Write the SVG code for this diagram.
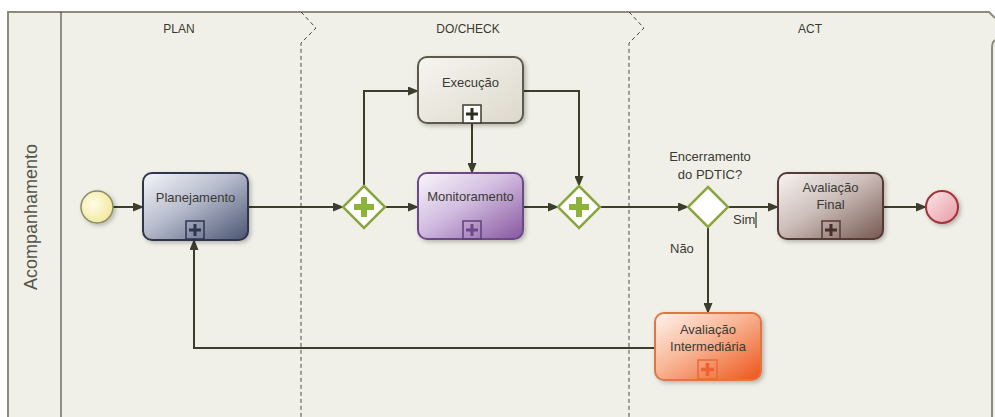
<svg xmlns="http://www.w3.org/2000/svg" width="995" height="417" viewBox="0 0 995 417">
<style>
.lbl{font-family:"Liberation Sans",Arial,sans-serif;font-size:13px;fill:#3a3a34;text-anchor:middle}
.hdr{font-family:"Liberation Sans",Arial,sans-serif;font-size:12px;fill:#3a3a2e;text-anchor:middle}
.free{font-family:"Liberation Sans",Arial,sans-serif;font-size:13px;fill:#3a3a34}
.conn{fill:none;stroke:#3d3d2c;stroke-width:2}
.sep{fill:none;stroke:#4a4a44;stroke-width:1;stroke-dasharray:4 3}
.gw{fill:#ffffff;stroke:#8aa640;stroke-width:2.5;stroke-linejoin:miter}
.gplus{stroke:#8cb43c;stroke-width:6;fill:none}
.task{stroke-width:2}
</style>
<defs>
<marker id="arr" markerUnits="userSpaceOnUse" markerWidth="11" markerHeight="9" refX="10" refY="4.5" orient="auto">
<path d="M0,0 L11,4.5 L0,9 z" fill="#3d3d2c"/>
</marker>
<filter id="sh" x="-10%" y="-10%" width="130%" height="130%">
<feDropShadow dx="2" dy="2" stdDeviation="2" flood-color="#000" flood-opacity="0.25"/>
</filter>
<linearGradient id="gPlan" x1="0" y1="0" x2="1" y2="1"><stop offset="0" stop-color="#f5f6fa"/><stop offset="0.45" stop-color="#b7bccd"/><stop offset="1" stop-color="#4a5472"/></linearGradient>
<linearGradient id="gExec" x1="0" y1="0" x2="1" y2="1"><stop offset="0" stop-color="#f7f5f0"/><stop offset="1" stop-color="#dcd8cc"/></linearGradient>
<linearGradient id="gMon" x1="0" y1="0" x2="1" y2="1"><stop offset="0" stop-color="#faf6fc"/><stop offset="0.45" stop-color="#d2bde0"/><stop offset="1" stop-color="#87569f"/></linearGradient>
<linearGradient id="gFin" x1="0" y1="0" x2="1" y2="1"><stop offset="0" stop-color="#f8f4f2"/><stop offset="0.45" stop-color="#cdbfbb"/><stop offset="1" stop-color="#75574f"/></linearGradient>
<linearGradient id="gInt" x1="0" y1="0" x2="1" y2="1"><stop offset="0" stop-color="#fff4ee"/><stop offset="0.45" stop-color="#f8b595"/><stop offset="1" stop-color="#ec5418"/></linearGradient>
<radialGradient id="gStart" cx="0.4" cy="0.4" r="0.65"><stop offset="0" stop-color="#fffde6"/><stop offset="1" stop-color="#f1e89a"/></radialGradient>
<linearGradient id="gEnd" x1="0" y1="0" x2="1" y2="1"><stop offset="0" stop-color="#fbe6e8"/><stop offset="1" stop-color="#e79aa4"/></linearGradient>
</defs>

<!-- pool frame -->
<rect x="0" y="0" width="995" height="417" fill="#ffffff"/>
<path d="M8,417 L8,12 L989,12 L995,18 L995,417 Z" fill="#f1f0e8"/>
<path d="M8,417 L8,12 L989,12 L995,18" fill="none" stroke="#8c8c7c" stroke-width="2"/>
<path d="M995,40 Q992,42 992,48 L992,417" fill="none" stroke="#8c8c7c" stroke-width="2"/>
<line x1="61" y1="12" x2="61" y2="417" stroke="#2a2a2a" stroke-width="1"/>
<text x="37" y="217" transform="rotate(-90 37 217)" text-anchor="middle" font-family="'Liberation Sans',Arial,sans-serif" font-size="18" fill="#55554c">Acompanhamento</text>

<!-- phase separators -->
<path class="sep" d="M301,12 L316,28 L301,43 L301,417"/>
<path class="sep" d="M629,12 L644,28 L629,43 L629,417"/>
<text class="hdr" x="179" y="33">PLAN</text>
<text class="hdr" x="468" y="33">DO/CHECK</text>
<text class="hdr" x="810" y="33">ACT</text>

<!-- connectors -->
<g id="connectors">
<path class="conn" marker-end="url(#arr)" d="M113,207 L143,207"/>
<path class="conn" marker-end="url(#arr)" d="M248,207 L343,207"/>
<path class="conn" marker-end="url(#arr)" d="M364,186 L364,91 L418,91"/>
<path class="conn" marker-end="url(#arr)" d="M385,207 L418,207"/>
<path class="conn" marker-end="url(#arr)" d="M472,123 L472,173"/>
<path class="conn" marker-end="url(#arr)" d="M523,91 L579,91 L579,186"/>
<path class="conn" marker-end="url(#arr)" d="M523,207 L558,207"/>
<path class="conn" marker-end="url(#arr)" d="M600,207 L688,207"/>
<path class="conn" marker-end="url(#arr)" d="M728,207 L778,207"/>
<path class="conn" marker-end="url(#arr)" d="M883,207 L926,207"/>
<path class="conn" marker-end="url(#arr)" d="M708,227 L708,313"/>
<path class="conn" marker-end="url(#arr)" d="M655,348 L194,348 L194,240"/>
<text class="free" x="733" y="224">Sim</text>
<line x1="756" y1="212" x2="756" y2="228" stroke="#3a3a34" stroke-width="1.2"/>
<text class="free" x="670" y="253">Não</text>
</g>

<!-- start -->
<g id="start">
<circle cx="97" cy="207" r="16" fill="url(#gStart)" stroke="#8a8a64" stroke-width="1.5" filter="url(#sh)"/>
</g>

<!-- Planejamento -->
<g id="planejamento">
<rect class="task" x="143" y="173" width="105" height="67" rx="9" fill="url(#gPlan)" stroke="#2e3650" filter="url(#sh)"/>
<text class="lbl" x="195.5" y="202">Planejamento</text>
<rect x="186" y="221" width="18" height="18" fill="none" stroke="#2e3650" stroke-width="1.5"/>
<path d="M195,224 V236 M189,230 H201" stroke="#2e3650" stroke-width="3"/>
</g>

<!-- Gateway 1 -->
<g id="gateway1">
<path class="gw" d="M364,186 L385,207 L364,228 L343,207 Z"/>
<path class="gplus" d="M364,197 V217 M354,207 H374"/>
</g>

<!-- Execucao -->
<g id="execucao">
<rect class="task" x="418" y="57" width="105" height="66" rx="9" fill="url(#gExec)" stroke="#5b5a4e" filter="url(#sh)"/>
<text class="lbl" x="470.5" y="87">Execução</text>
<rect x="463" y="105" width="18" height="18" fill="#ffffff" stroke="#3d3d2c" stroke-width="1.5"/>
<path d="M472,108 V120 M466,114 H478" stroke="#2d2d22" stroke-width="3"/>
</g>

<!-- Monitoramento -->
<g id="monitoramento">
<rect class="task" x="418" y="173" width="105" height="66" rx="9" fill="url(#gMon)" stroke="#6a4a88" filter="url(#sh)"/>
<text class="lbl" x="470.5" y="201">Monitoramento</text>
<rect x="463" y="221" width="18" height="18" fill="none" stroke="#5e4078" stroke-width="1.5"/>
<path d="M472,224 V236 M466,230 H478" stroke="#6a4a88" stroke-width="3"/>
</g>

<!-- Gateway 2 -->
<g id="gateway2">
<path class="gw" d="M579,186 L600,207 L579,228 L558,207 Z"/>
<path class="gplus" d="M579,197 V217 M569,207 H589"/>
</g>

<!-- Decision -->
<g id="decision">
<path class="gw" d="M708,187 L728,207 L708,227 L688,207 Z"/>
<text class="lbl" x="710" y="161">Encerramento</text>
<text class="lbl" x="710" y="179">do PDTIC?</text>
</g>

<!-- Avaliacao Final -->
<g id="avaliacao-final">
<rect class="task" x="778" y="173" width="105" height="66" rx="9" fill="url(#gFin)" stroke="#553a35" filter="url(#sh)"/>
<text class="lbl" x="830.5" y="192">Avaliação</text>
<text class="lbl" x="830.5" y="209">Final</text>
<rect x="822" y="221" width="18" height="18" fill="none" stroke="#553a35" stroke-width="1.5"/>
<path d="M831,224 V236 M825,230 H837" stroke="#4a2e2a" stroke-width="3"/>
</g>

<!-- End -->
<g id="end">
<circle cx="942" cy="207" r="16" fill="url(#gEnd)" stroke="#a3303a" stroke-width="2" filter="url(#sh)"/>
</g>

<!-- Avaliacao Intermediaria -->
<g id="avaliacao-intermediaria">
<rect class="task" x="655" y="313" width="106" height="67" rx="9" fill="url(#gInt)" stroke="#e27444" filter="url(#sh)"/>
<text class="lbl" x="708" y="334">Avaliação</text>
<text class="lbl" x="708" y="351">Intermediária</text>
<rect x="698" y="360" width="19" height="19" fill="none" stroke="#e86a38" stroke-width="1.5"/>
<path d="M707.5,363 V376 M701,369.5 H714" stroke="#ec6230" stroke-width="3.5"/>
</g>
</svg>
